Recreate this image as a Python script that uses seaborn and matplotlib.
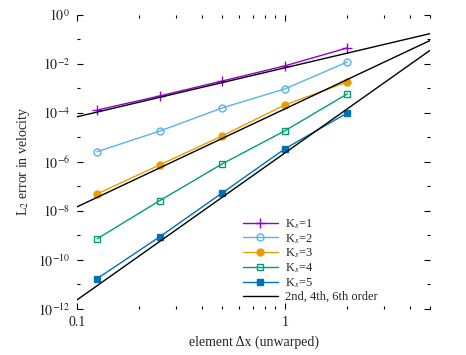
import numpy as np
import pandas as pd
import seaborn as sns
import matplotlib.pyplot as plt
from matplotlib.ticker import NullFormatter

# element size (unwarped)
dx = [0.125, 0.25, 0.5, 1.0, 2.0]
# L2 velocity error for each K_s
err_k1 = [1.3e-4, 4.9e-4, 2.0e-3, 8.3e-3, 4.5e-2]
err_k2 = [2.6e-6, 1.8e-5, 1.6e-4, 9.5e-4, 1.2e-2]
err_k3 = [4.9e-8, 7.5e-7, 1.15e-5, 2.1e-4, 1.85e-3]
err_k4 = [7.2e-10, 2.6e-8, 8.3e-7, 1.85e-5, 6.0e-4]
err_k5 = [1.7e-11, 8.7e-10, 5.4e-8, 3.4e-6, 1.0e-4]
# reference slopes: err = coef * dx^order
ref_orders = [2, 4, 6]
ref_coefs = [6.9e-3, 1.45e-4, 2.3e-6]
ref_dx = [0.1, 5.0]

sns.set_style("ticks")
plt.rcParams['font.family'] = ['Liberation Serif', 'DejaVu Serif']
plt.rcParams['mathtext.fontset'] = 'stix'

fig = plt.figure(figsize=(4.66, 3.55), dpi=100)
ax = fig.add_axes([0.165, 0.13, 0.758, 0.828])

series = [err_k1, err_k2, err_k3, err_k4, err_k5]
colors = ["#9400D3", "#56B4E9", "#E69F00", "#009E73", "#0072B2"]
markers = ["+", "o", "o", "s", "s"]
filled = [True, False, True, False, True]

for i, (err, c, m, f) in enumerate(zip(series, colors, markers, filled)):
    df = pd.DataFrame({"dx": dx, "err": err})
    sns.lineplot(data=df, x="dx", y="err", ax=ax, color=c, lw=1,
                 marker=m, markersize=5 if m != "+" else 6.5,
                 markerfacecolor=c if f else "none", markeredgecolor=c,
                 markeredgewidth=1, label="K$_s$=%d" % (i + 1))

for j, (p, cf) in enumerate(zip(ref_orders, ref_coefs)):
    xs = np.array(ref_dx)
    df = pd.DataFrame({"dx": xs, "err": cf * xs ** p})
    sns.lineplot(data=df, x="dx", y="err", ax=ax, color="black", lw=1,
                 label="2nd, 4th, 6th order" if j == 0 else None)

ax.set_xscale("log")
ax.set_yscale("log")
ax.set_xlim(0.1, 5)
ax.set_ylim(1e-12, 1)

yt = [10.0 ** k for k in range(-12, 1, 2)]
ax.set_yticks(yt)
ax.set_yticklabels(["$10^{%d}$" % k for k in range(-12, 1, 2)])
ax.set_yticks([10.0 ** k for k in range(-11, 0, 2)], minor=True)
ax.set_xticks([0.1, 1])
ax.set_xticklabels(["0.1", "1"])
ax.set_xticks([0.2, 0.3, 0.4, 0.5, 0.6, 0.7, 0.8, 0.9, 2, 3, 4, 5], minor=True)
ax.xaxis.set_minor_formatter(NullFormatter())
ax.yaxis.set_minor_formatter(NullFormatter())

ax.tick_params(which="both", direction="in", top=True, right=True,
               labelsize=10, width=0.8, color="black", labelcolor="#222222")
ax.tick_params(which="major", length=4, pad=5)
ax.tick_params(which="minor", length=2.5)
for s in ax.spines.values():
    s.set_visible(False)

ax.set_xlabel("element \u0394x (unwarped)", fontsize=10, labelpad=5)
ax.set_ylabel("L$_2$ error in velocity", fontsize=10)

ax.legend(loc="lower right", bbox_to_anchor=(0.875, -0.01), frameon=False,
          fontsize=9, handlelength=2.8, handletextpad=0.55,
          labelspacing=0.08, borderaxespad=0.3)

fig.savefig("out.png", dpi=100)
